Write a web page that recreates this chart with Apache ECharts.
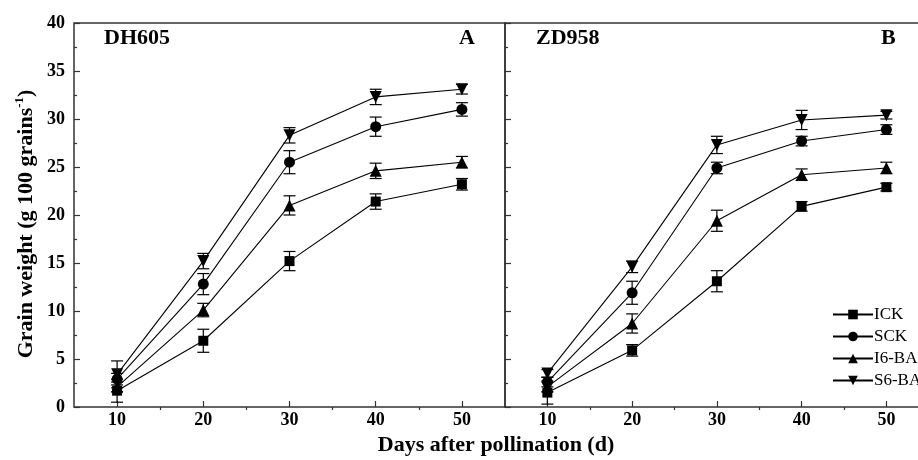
<!DOCTYPE html>
<html>
<head>
<meta charset="utf-8">
<script src="https://cdn.jsdelivr.net/npm/echarts@6/dist/echarts.min.js"></script>
<style>
  html, body { margin: 0; padding: 0; background: #fff; }
  #main { width: 918px; height: 460px; }
</style>
</head>
<body>
<div id="main"></div>
<script>
// days after pollination
var days = [10, 20, 30, 40, 50];
var seriesNames = ['ICK', 'SCK', 'I6-BA', 'S6-BA'];

// panel A (DH605)
var ickA = [1.7, 6.9, 15.2, 21.4, 23.2];
var sckA = [2.9, 12.8, 25.5, 29.2, 31.0];
var i6baA = [2.1, 10.1, 21.0, 24.6, 25.5];
var s6baA = [3.4, 15.2, 28.3, 32.3, 33.1];
var ickAErr = [1.2, 1.2, 1.0, 0.8, 0.6];
var sckAErr = [0.6, 1.1, 1.2, 1.0, 0.7];
var i6baAErr = [0.5, 0.7, 1.0, 0.8, 0.6];
var s6baAErr = [1.4, 0.8, 0.8, 0.8, 0.5];

// panel B (ZD958)
var ickB = [1.5, 5.9, 13.1, 20.9, 22.9];
var sckB = [2.6, 11.9, 24.9, 27.7, 28.9];
var i6baB = [2.1, 8.7, 19.4, 24.2, 24.9];
var s6baB = [3.5, 14.6, 27.3, 29.9, 30.4];
var ickBErr = [1.2, 0.6, 1.1, 0.5, 0.4];
var sckBErr = [0.5, 1.2, 0.6, 0.5, 0.5];
var i6baBErr = [0.5, 1.0, 1.1, 0.6, 0.6];
var s6baBErr = [0.4, 0.6, 0.9, 1.0, 0.4];

var xTicks = [10, 20, 30, 40, 50];
var xMinorTicks = [15, 25, 35, 45];

var FONT = '"Liberation Serif", "Times New Roman", serif';
var AXIS_COLOR = '#333';
var symbols = ['rect', 'circle', 'triangle', 'triangle'];
var symbolSizes = [10, 11, 12, 12];
var symbolRotates = [0, 0, 0, 180];
// panel B is cut off by the right edge of the figure
var xMaxA = 55, xMaxB = 53.73;

function zip(vals, errs) {
  var out = [];
  for (var i = 0; i < days.length; i++) out.push([days[i], vals[i], errs ? errs[i] : 0]);
  return out;
}

function errorBars(axisIdx, vals, errs) {
  return {
    type: 'custom',
    xAxisIndex: axisIdx * 2,
    yAxisIndex: axisIdx,
    z: 1,
    silent: true,
    data: zip(vals, errs),
    renderItem: function (params, api) {
      var x = api.value(0), y = api.value(1), e = api.value(2);
      var hi = api.coord([x, y + e]);
      var lo = api.coord([x, y - e]);
      var w = 6;
      var st = { stroke: '#000', lineWidth: 1.2 };
      return {
        type: 'group',
        children: [
          { type: 'line', shape: { x1: hi[0], y1: hi[1], x2: lo[0], y2: lo[1] }, style: st },
          { type: 'line', shape: { x1: hi[0] - w, y1: hi[1], x2: hi[0] + w, y2: hi[1] }, style: st },
          { type: 'line', shape: { x1: lo[0] - w, y1: lo[1], x2: lo[0] + w, y2: lo[1] }, style: st }
        ]
      };
    }
  };
}

function lineSeries(axisIdx, k, vals) {
  return {
    name: seriesNames[k],
    type: 'line',
    xAxisIndex: axisIdx * 2,
    yAxisIndex: axisIdx,
    data: zip(vals),
    symbol: symbols[k],
    symbolSize: symbolSizes[k],
    symbolRotate: symbolRotates[k],
    z: 3,
    lineStyle: { color: '#000', width: 1.1 },
    itemStyle: { color: '#000' },
    emphasis: { disabled: true }
  };
}

function xAxes(gridIdx, max, showLine) {
  return [
    {
      gridIndex: gridIdx, type: 'value', min: 5, max: max,
      splitLine: { show: false },
      axisLine: { show: showLine, onZero: false, lineStyle: { color: AXIS_COLOR, width: 1.5 } },
      axisTick: { inside: true, length: 6, customValues: xTicks, lineStyle: { color: AXIS_COLOR, width: 1.2 } },
      axisLabel: { customValues: xTicks, margin: 4, color: '#000', fontFamily: FONT, fontWeight: 'bold', fontSize: 18 }
    },
    {
      gridIndex: gridIdx, type: 'value', min: 5, max: max,
      splitLine: { show: false },
      axisLine: { show: false },
      axisLabel: { show: false },
      axisTick: { inside: true, length: 3, customValues: xMinorTicks, lineStyle: { color: AXIS_COLOR, width: 1.2 } }
    }
  ];
}

function yAxis(gridIdx, showLabels) {
  var ax = {
    gridIndex: gridIdx, type: 'value', min: 0, max: 40, interval: 5,
    splitLine: { show: false },
    axisLine: { show: !showLabels, lineStyle: { color: AXIS_COLOR, width: 1.5 } },
    axisTick: { inside: true, length: 6, lineStyle: { color: AXIS_COLOR, width: 1.2 } },
    minorTick: { show: true, splitNumber: 2, length: 3, lineStyle: { color: AXIS_COLOR, width: 1.2 } },
    axisLabel: { show: showLabels, margin: 9, color: '#000', fontFamily: FONT, fontWeight: 'bold', fontSize: 18 }
  };
  if (showLabels) {
    ax.name = '{a|Grain weight (g 100 grains}{s|-1}{a|)}';
    ax.nameLocation = 'middle';
    ax.nameGap = 35;
    ax.nameRotate = 90;
    ax.nameTextStyle = {
      padding: [0, 18, 0, 0],
      rich: {
        a: { fontFamily: FONT, fontWeight: 'bold', fontSize: 22, color: '#000', lineHeight: 26 },
        s: { fontFamily: FONT, fontWeight: 'bold', fontSize: 13, color: '#000', verticalAlign: 'top', lineHeight: 26, padding: [0, 0, 10, 0] }
      }
    };
  }
  return ax;
}

var chart = echarts.init(document.getElementById('main'), null, { renderer: 'canvas' });

var series = [
  errorBars(0, ickA, ickAErr), errorBars(0, sckA, sckAErr), errorBars(0, i6baA, i6baAErr), errorBars(0, s6baA, s6baAErr),
  errorBars(1, ickB, ickBErr), errorBars(1, sckB, sckBErr), errorBars(1, i6baB, i6baBErr), errorBars(1, s6baB, s6baBErr),
  lineSeries(0, 0, ickA), lineSeries(0, 1, sckA), lineSeries(0, 2, i6baA), lineSeries(0, 3, s6baA),
  lineSeries(1, 0, ickB), lineSeries(1, 1, sckB), lineSeries(1, 2, i6baB), lineSeries(1, 3, s6baB)
];

var titleStyle = { fontFamily: FONT, fontWeight: 'bold', fontSize: 22, color: '#000' };

var option = {
  animation: false,
  backgroundColor: '#fff',
  grid: [
    { left: 74, right: 413, top: 23, bottom: 53, show: true, borderColor: AXIS_COLOR, borderWidth: 1.5, backgroundColor: 'transparent' },
    { left: 505, right: 0, top: 23, bottom: 53 }
  ],
  xAxis: xAxes(0, xMaxA, false).concat(xAxes(1, xMaxB, true)).concat([
    {
      gridIndex: 1, type: 'value', min: 5, max: xMaxB, position: 'top',
      splitLine: { show: false }, axisTick: { show: false }, axisLabel: { show: false },
      axisLine: { show: true, onZero: false, lineStyle: { color: AXIS_COLOR, width: 1.5 } }
    }
  ]),
  yAxis: [yAxis(0, true), yAxis(1, false)],
  legend: {
    data: seriesNames,
    orient: 'vertical',
    left: 827,
    top: 301,
    itemWidth: 40,
    itemHeight: 12,
    itemGap: 5,
    textStyle: { fontFamily: FONT, fontSize: 17, color: '#000', lineHeight: 16, padding: [0, 0, 0, -4] },
    selectedMode: false
  },
  title: [
    { text: 'DH605', left: 99, top: 22, textStyle: titleStyle },
    { text: 'A', left: 454, top: 22, textStyle: titleStyle },
    { text: 'ZD958', left: 531, top: 22, textStyle: titleStyle },
    { text: 'B', left: 876, top: 22, textStyle: titleStyle }
  ],
  graphic: [
    {
      type: 'text', x: 496, y: 445,
      style: { text: 'Days after pollination (d)', align: 'center', verticalAlign: 'middle', fontFamily: FONT, fontWeight: 'bold', fontSize: 22, fill: '#000' }
    }
  ],
  series: series
};

chart.setOption(option);
</script>
</body>
</html>
